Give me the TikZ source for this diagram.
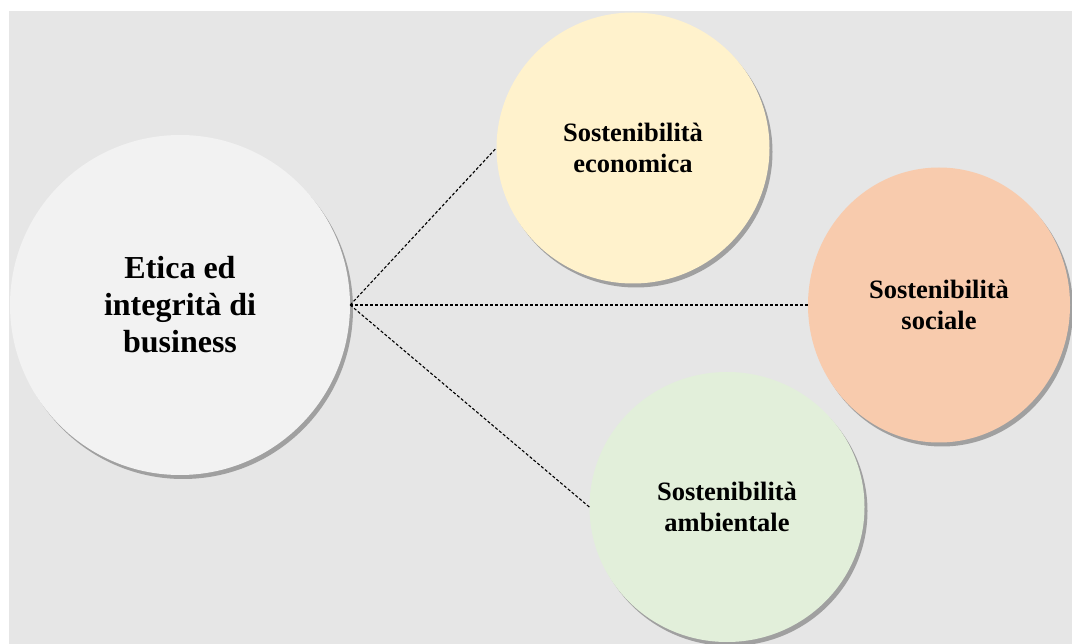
\documentclass[tikz,border=0pt]{standalone}
\usepackage{fontspec}
\setmainfont{Liberation Serif}
\usetikzlibrary{shapes.geometric,shadows}
\definecolor{bggray}{HTML}{E6E6E6}
\definecolor{maincol}{HTML}{F2F2F2}
\definecolor{ecocol}{HTML}{FFF2CC}
\definecolor{soccol}{HTML}{F8CBAD}
\definecolor{ambcol}{HTML}{E2EFDA}
\definecolor{shadcol}{HTML}{A0A0A0}
\begin{document}
\begin{tikzpicture}[x=1pt,y=-1pt,
  bubble/.style={ellipse, inner sep=0pt, align=center, font=\bfseries,
    drop shadow={shadow xshift=3pt, shadow yshift=-4pt, fill=shadcol, opacity=1}},
  bigtext/.style={font=\fontsize{32}{37}\selectfont\bfseries},
  smalltext/.style={font=\fontsize{26.5}{31}\selectfont\bfseries},
  link/.style={draw=black, line width=1.1pt, dash pattern=on 3pt off 2pt}]
\useasboundingbox (0,0) rectangle (1072,644);
\fill[white] (0,0) rectangle (1072,644);
\fill[bggray] (9,11) rectangle (1072,644);
\node[bubble, bigtext, fill=maincol, minimum width=340pt, minimum height=340pt] (main) at (180,305) {Etica ed\\integrità di\\business};
\node[bubble, smalltext, fill=ecocol, minimum width=273pt, minimum height=271pt] (eco) at (633,148) {Sostenibilità\\economica};
\node[bubble, smalltext, fill=soccol, minimum width=262pt, minimum height=275pt] (soc) at (939,305) {Sostenibilità\\sociale};
\node[bubble, smalltext, fill=ambcol, minimum width=275pt, minimum height=270pt] (amb) at (727,507) {Sostenibilità\\ambientale};
\draw[link] (main.east) -- (eco.west);
\draw[link] (main.east) -- (soc.west);
\draw[link] (main.east) -- (amb.west);
\end{tikzpicture}
\end{document}
